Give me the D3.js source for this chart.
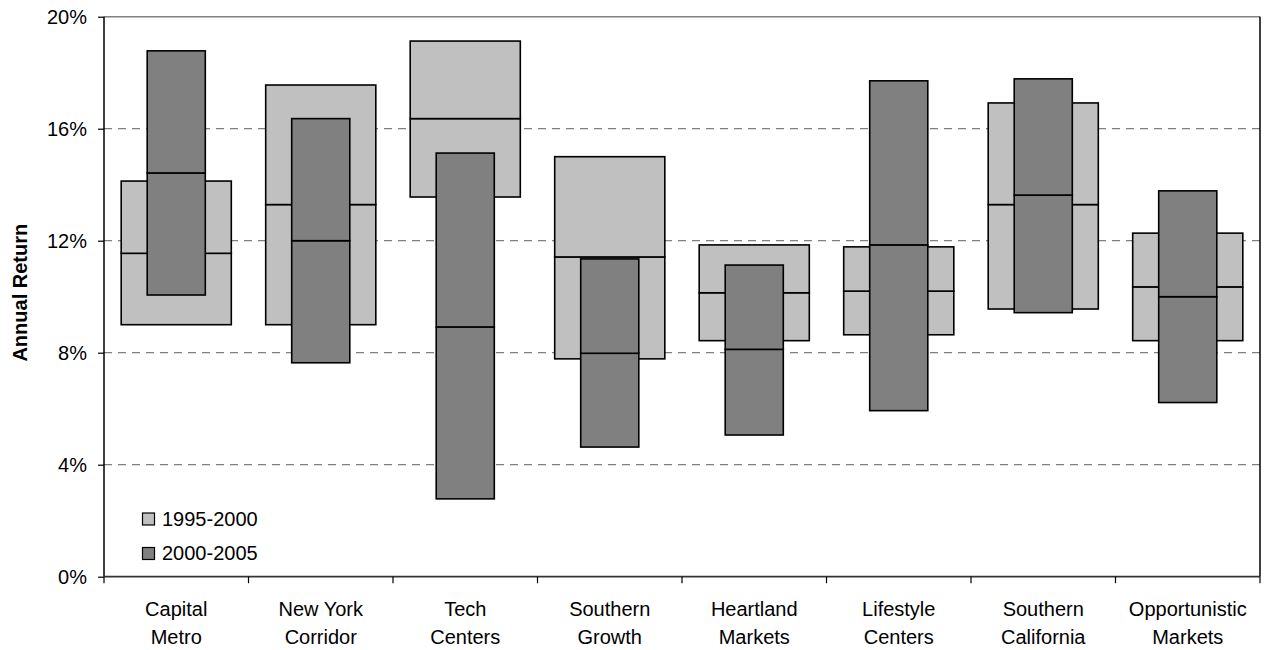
<!DOCTYPE html>
<html>
<head>
<meta charset="utf-8">
<script src="https://cdn.jsdelivr.net/npm/d3@7"></script>
<style>
  html, body { margin: 0; padding: 0; background: #fff; }
  svg { display: block; font-family: Arial, "Liberation Sans", sans-serif; }
</style>
</head>
<body>
<svg id="chart" width="1266" height="650"></svg>
<script>
// Market categories (two-line labels)
const categories = [
  ["Capital", "Metro"],
  ["New York", "Corridor"],
  ["Tech", "Centers"],
  ["Southern", "Growth"],
  ["Heartland", "Markets"],
  ["Lifestyle", "Centers"],
  ["Southern", "California"],
  ["Opportunistic", "Markets"]
];

// 1995-2000 return range: low / median / high (%)
const early_low  = [9.0, 9.0, 13.56, 7.78, 8.43, 8.64, 9.56, 8.43];
const early_mid  = [11.55, 13.29, 16.36, 11.42, 10.14, 10.2, 13.29, 10.35];
const early_high = [14.13, 17.56, 19.13, 15.0, 11.85, 11.78, 16.92, 12.27];

// 2000-2005 return range: low / median / high (%)
const late_low  = [10.06, 7.64, 2.78, 4.63, 5.06, 5.93, 9.43, 6.22];
const late_mid  = [14.42, 12.0, 8.92, 7.98, 8.12, 11.85, 13.63, 10.0];
const late_high = [18.78, 16.36, 15.13, 11.35, 11.13, 17.71, 17.78, 13.78];

const yTicks = [0, 4, 8, 12, 16, 20];
const seriesNames = ["1995-2000", "2000-2005"];
const seriesColors = ["#C0C0C0", "#808080"];

const svg = d3.select("#chart");
const plotLeft = 104, plotRight = 1260, plotTop = 16.7, plotBottom = 576.7;

const x = d3.scaleBand().domain(d3.range(categories.length)).range([plotLeft, plotRight]).paddingInner(0).paddingOuter(0);
const y = d3.scaleLinear().domain([0, 20]).range([plotBottom, plotTop]);

// dashed gridlines
svg.append("g").selectAll("line").data(yTicks.filter(t => t > 0 && t < 20)).join("line")
  .attr("x1", plotLeft).attr("x2", plotRight)
  .attr("y1", d => y(d)).attr("y2", d => y(d))
  .attr("stroke", "#808080").attr("stroke-width", 1.2)
  .attr("stroke-dasharray", "8,6");

// plot frame: top (gray) and right (black)
svg.append("line").attr("x1", plotLeft).attr("x2", plotRight).attr("y1", y(20)).attr("y2", y(20))
  .attr("stroke", "#808080").attr("stroke-width", 1.5);
svg.append("line").attr("x1", plotRight).attr("x2", plotRight).attr("y1", y(20)).attr("y2", y(0))
  .attr("stroke", "#000").attr("stroke-width", 1.5);

const bw = x.bandwidth();
const wideW = bw * 0.762;
const narrowW = bw * 0.402;

function drawSeries(low, mid, high, width, fill) {
  const g = svg.append("g");
  const idx = d3.range(categories.length);
  // lower half: low -> median
  g.selectAll("rect.lo").data(idx).join("rect").attr("class", "lo")
    .attr("x", i => x(i) + (bw - width) / 2)
    .attr("width", width)
    .attr("y", i => y(mid[i]))
    .attr("height", i => y(low[i]) - y(mid[i]))
    .attr("fill", fill).attr("stroke", "#000").attr("stroke-width", 1.6);
  // upper half: median -> high
  g.selectAll("rect.hi").data(idx).join("rect").attr("class", "hi")
    .attr("x", i => x(i) + (bw - width) / 2)
    .attr("width", width)
    .attr("y", i => y(high[i]))
    .attr("height", i => y(mid[i]) - y(high[i]))
    .attr("fill", fill).attr("stroke", "#000").attr("stroke-width", 1.6);
}

drawSeries(early_low, early_mid, early_high, wideW, seriesColors[0]);
drawSeries(late_low, late_mid, late_high, narrowW, seriesColors[1]);

// y axis
const yAxis = d3.axisLeft(y).tickValues(yTicks).tickFormat(d => d + "%").tickSize(6).tickPadding(11);
const yg = svg.append("g").attr("transform", `translate(${plotLeft},0)`).call(yAxis);
yg.select(".domain").attr("stroke", "#000").attr("stroke-width", 1.5).attr("d", `M0,${plotTop}V${plotBottom}`);
yg.selectAll(".tick line").attr("stroke", "#000").attr("stroke-width", 1.2);
yg.selectAll(".tick text").attr("font-size", 20).attr("fill", "#000")
  .attr("font-family", "Arial, 'Liberation Sans', sans-serif");

// x axis with ticks at category boundaries
const xg = svg.append("g");
xg.append("line").attr("x1", plotLeft).attr("x2", plotRight).attr("y1", plotBottom).attr("y2", plotBottom)
  .attr("stroke", "#333").attr("stroke-width", 1.8);
const bounds = d3.range(categories.length + 1).map(i => i < categories.length ? x(i) : x(i - 1) + bw);
xg.selectAll("line.tk").data(bounds).join("line").attr("class", "tk")
  .attr("x1", d => d).attr("x2", d => d).attr("y1", plotBottom).attr("y2", plotBottom + 6.5)
  .attr("stroke", "#000").attr("stroke-width", 1.2);
const lbl = xg.selectAll("text.cat").data(categories).join("text").attr("class", "cat")
  .attr("text-anchor", "middle").attr("font-size", 20).attr("fill", "#000");
lbl.append("tspan").attr("x", (d, i) => x(i) + bw / 2).attr("y", 615.5).text(d => d[0]);
lbl.append("tspan").attr("x", (d, i) => x(i) + bw / 2).attr("y", 644).text(d => d[1]);

// y axis title
svg.append("text")
  .attr("transform", `translate(26.5,${(plotTop + plotBottom) / 2 - 4}) rotate(-90)`)
  .attr("text-anchor", "middle").attr("font-size", 20).attr("font-weight", "bold")
  .text("Annual Return");

// legend
const legend = svg.append("g");
seriesNames.forEach((name, i) => {
  const yy = 513 + i * 34.5;
  legend.append("rect").attr("x", 142.5).attr("y", yy).attr("width", 12).attr("height", 12)
    .attr("fill", seriesColors[i]).attr("stroke", "#000").attr("stroke-width", 1.2);
  legend.append("text").attr("x", 162).attr("y", yy + 12.5).attr("font-size", 20).text(name);
});
</script>
</body>
</html>
